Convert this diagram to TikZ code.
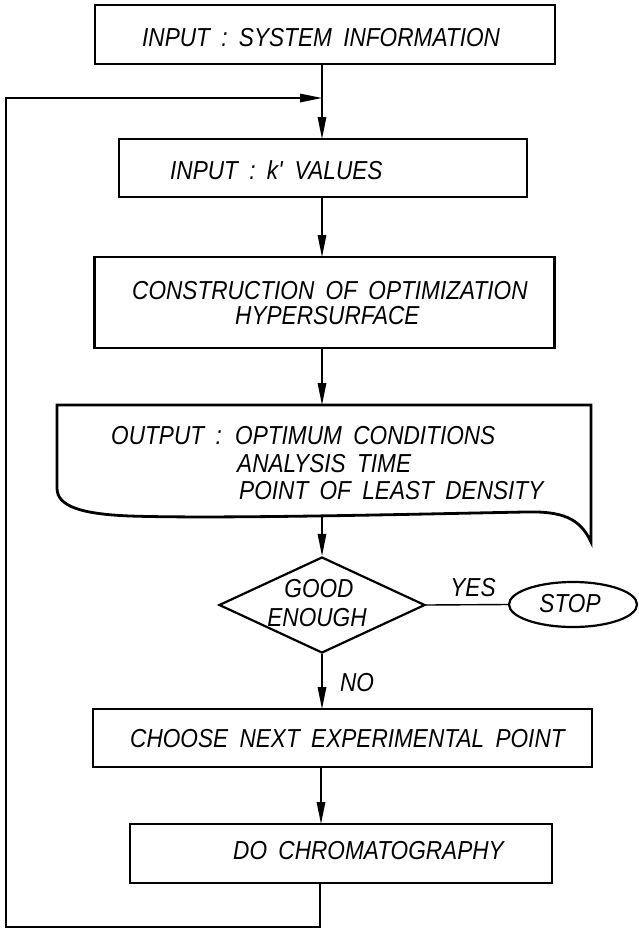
\documentclass[tikz,border=0pt]{standalone}
\usepackage{fontspec}
\setmainfont{Liberation Sans}
\newfontfamily\techfont{Liberation Sans}[FakeStretch=0.87,WordSpace=1.8]
\usetikzlibrary{arrows.meta,shapes.geometric}
\begin{document}
\begin{tikzpicture}[x=1pt,y=-1pt,
  box/.style={draw, line width=2.8pt, inner sep=0pt, outer sep=0pt},
  conn/.style={draw, line width=1.4pt},
  arr/.style={conn, -{Triangle[length=22pt,width=8.5pt]}},
  txt/.style={inner sep=0pt, font=\techfont\itshape\fontsize{26}{30}\selectfont, anchor=base west},
  ctxt/.style={txt, anchor=base}]
\useasboundingbox (0,0) rectangle (639,930);
\fill[white] (0,0) rectangle (639,930);

% boxes
\node[box, minimum width=460pt, minimum height=59pt] (b1) at (325,34.5) {};
\node[box, minimum width=408pt, minimum height=58pt] (b2) at (323,168) {};
\node[box, minimum width=460pt, minimum height=91pt] (b3) at (324.5,302.5) {};
\node[box, minimum width=499pt, minimum height=58pt] (b5) at (342.5,738) {};
\node[box, minimum width=422pt, minimum height=59pt] (b6) at (341,853.5) {};
\node[draw, diamond, line width=2.2pt, inner sep=0pt, minimum width=206pt, minimum height=96pt] (dia) at (322,605) {};
\node[draw, ellipse, line width=2.2pt, inner sep=0pt, minimum width=128pt, minimum height=45pt] (stop) at (573,604.5) {};

% output (document) shape
\draw[box] (57,405) -- (591,405) -- (591,542)
  .. controls (580,518) and (562,511) .. (525,512)
  .. controls (420,514) and (220,519) .. (130,516)
  .. controls (80,514) and (57,506) .. (57,488) -- cycle;
\coordinate (outT) at (322,405);
\coordinate (outB) at (322,517);

% texts
\node[txt] (t1) at (142,46) {INPUT : SYSTEM INFORMATION};
\node[txt] (t2) at (170,179) {INPUT : k\textquotesingle\ VALUES};
\node[txt] (t3a) at (132,299) {CONSTRUCTION OF OPTIMIZATION};
\node[txt] (t3b) at (235,324) {HYPERSURFACE};
\node[txt] (t4a) at (111,444) {OUTPUT :};
\node[txt] (t4b) at (235,444) {OPTIMUM CONDITIONS};
\node[txt] (t4c) at (237,472) {ANALYSIS TIME};
\node[txt] (t4d) at (239,499) {POINT OF LEAST DENSITY};
\node[ctxt] (t5a) at (319,597) {GOOD};
\node[ctxt] (t5b) at (317,626) {ENOUGH};
\node[ctxt] (tyes) at (473,596) {YES};
\node[ctxt] (tstop) at (570,612) {STOP};
\node[ctxt] (tno) at (357,691) {NO};
\node[txt] (t6) at (130,747) {CHOOSE NEXT EXPERIMENTAL POINT};
\node[txt] (t7) at (233,859) {DO CHROMATOGRAPHY};

% connectors
\coordinate (col) at (322,0);
\coordinate (colb) at (321,0);
\coordinate (colc) at (320,0);
\coordinate (lb) at (320,927);
\coordinate (lt) at (6,98);
\coordinate (j) at (322,98);
\draw[arr] (b1.south -| col) -- (b2.north -| col);
\draw[arr] (b2.south -| col) -- (b3.north -| col);
\draw[arr] (b3.south -| col) -- (outT);
\draw[arr] (outB) -- (dia.north);
\draw[arr] (dia.south) -- (b5.north -| dia.south);
\draw[conn] (dia.east) -- (stop.west);
\draw[arr] (b5.south -| colb) -- (b6.north -| colb);
\draw[arr] (b6.south -| colc) -- (lb) -| (lt) -- (j);
\end{tikzpicture}
\end{document}
